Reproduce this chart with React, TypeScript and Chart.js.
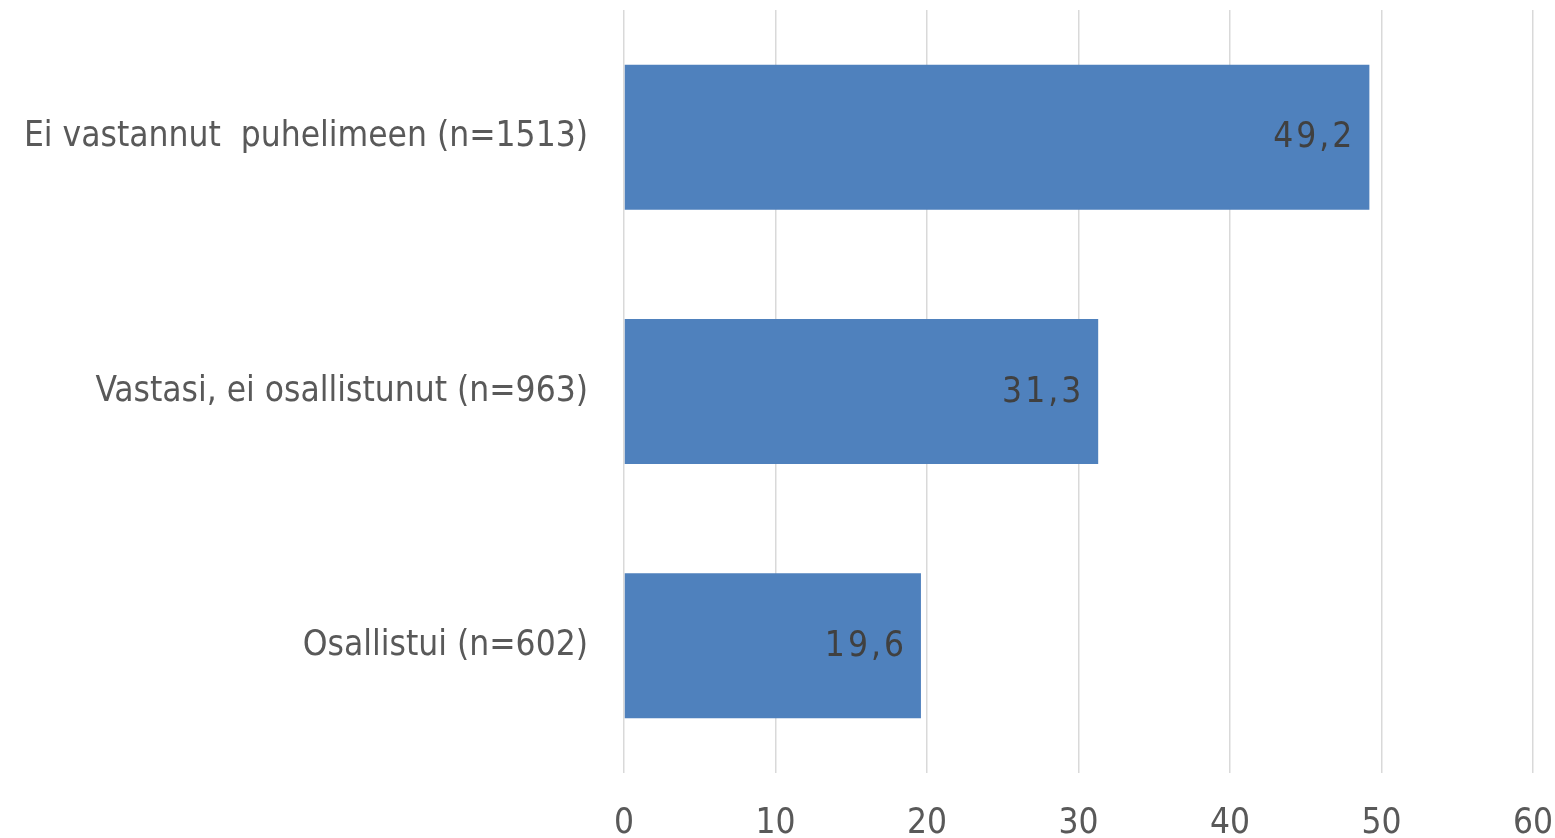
import React, { useEffect, useRef } from "react";
import { Chart, registerables } from "chart.js";

Chart.register(...registerables);

const categories: string[] = [
  "Ei vastannut  puhelimeen (n=1513)",
  "Vastasi, ei osallistunut (n=963)",
  "Osallistui (n=602)",
];
const values: number[] = [49.2, 31.3, 19.6];
const xTicks: number[] = [0, 10, 20, 30, 40, 50, 60];

const FONT = "'Liberation Sans Narrow', 'DejaVu Sans Condensed', 'Noto Sans', sans-serif";

const valueLabels = {
  id: "valueLabels",
  afterDatasetsDraw(chart: any) {
    const ctx = chart.ctx;
    const meta = chart.getDatasetMeta(0);
    ctx.save();
    ctx.font = `35px ${FONT}`;
    (ctx as any).letterSpacing = "3px";
    ctx.fillStyle = "#404040";
    ctx.textAlign = "right";
    ctx.textBaseline = "middle";
    meta.data.forEach((el: any, i: number) => {
      const txt = String(values[i]).replace(".", ",");
      ctx.fillText(txt, el.x - 14, el.y + 1);
    });
    ctx.restore();
  },
};

export default function App() {
  const ref = useRef<HTMLCanvasElement | null>(null);
  useEffect(() => {
    document.body.style.margin = "0";
    if (!ref.current) return;
    const chart = new Chart(ref.current, {
      type: "bar",
      data: {
        labels: categories,
        datasets: [
          {
            data: values,
            backgroundColor: "#4F81BD",
            borderWidth: 0,
            categoryPercentage: 1,
            barPercentage: 0.57,
          },
        ],
      },
      options: {
        indexAxis: "y",
        animation: false,
        responsive: false,
        maintainAspectRatio: false,
        devicePixelRatio: 1,
        layout: { padding: { top: 10, right: 22, left: 0, bottom: 0 } },
        plugins: { legend: { display: false }, tooltip: { enabled: false } },
        scales: {
          x: {
            min: 0,
            max: 60,
            afterBuildTicks: (axis: any) => {
              axis.ticks = xTicks.map((v) => ({ value: v }));
            },
            afterFit: (axis: any) => {
              axis.height = 65;
              axis.paddingLeft = 0;
              axis.paddingRight = 0;
            },
            grid: { color: "#D9D9D9", lineWidth: 1.5, drawTicks: false },
            border: { display: false },
            ticks: {
              color: "#595959",
              font: { family: FONT, size: 35 },
              padding: 30,
            },
          },
          y: {
            afterFit: (axis: any) => {
              axis.width = 624;
              axis.paddingTop = 0;
              axis.paddingBottom = 0;
            },
            grid: { display: false, drawTicks: false },
            border: { display: false },
            ticks: {
              color: "#595959",
              font: { family: FONT, size: 35 },
              padding: 36,
            },
          },
        },
      },
      plugins: [valueLabels],
    });
    return () => chart.destroy();
  }, []);
  return <canvas ref={ref} width={1555} height={838} style={{ display: "block" }} />;
}
